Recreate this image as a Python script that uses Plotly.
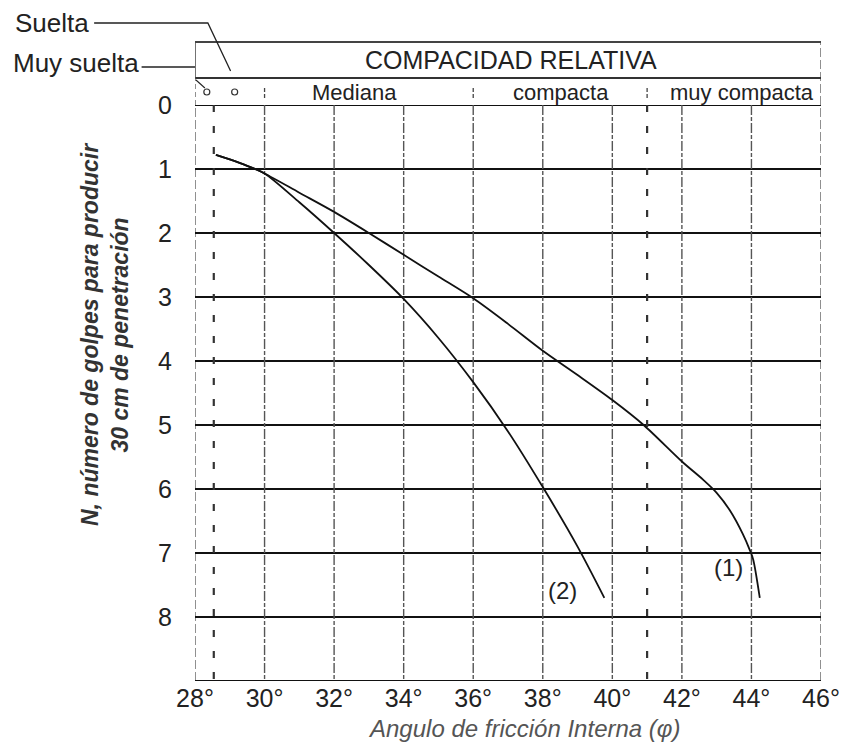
import plotly.graph_objects as go

# ---- data ----
curve1_phi = [28.6, 29.0, 29.5, 30.0, 31.0, 32.0, 33.0, 34.0, 35.0, 36.0, 37.0, 38.0, 39.0, 40.0, 40.9, 42.0, 42.6, 43.0, 43.4, 43.75, 43.95, 44.05, 44.24]
curve1_n = [0.78, 0.85, 0.95, 1.07, 1.37, 1.67, 2.0, 2.34, 2.68, 3.02, 3.42, 3.84, 4.22, 4.61, 5.0, 5.57, 5.85, 6.06, 6.35, 6.7, 6.95, 7.1, 7.7]

curve2_phi = [28.6, 29.0, 29.5, 30.0, 31.0, 32.0, 33.0, 34.0, 35.0, 36.0, 37.0, 38.0, 39.0, 39.77]
curve2_n = [0.78, 0.85, 0.95, 1.07, 1.52, 2.0, 2.5, 3.03, 3.64, 4.33, 5.1, 5.97, 6.9, 7.7]

x_ticks = [28, 30, 32, 34, 36, 38, 40, 42, 44, 46]
x_tick_labels = [f"{v}°" for v in x_ticks]
y_ticks = [0, 1, 2, 3, 4, 5, 6, 7, 8]
y_tick_labels = [str(v) for v in y_ticks]

row_labels = ["Mediana", "compacta", "muy compacta"]
row_label_x = [32.6, 38.52, 43.72]
boundaries = [30, 36, 41]
loose_markers = [28.34, 29.14]
curve_labels = ["(1)", "(2)"]
curve_label_x = [43.35, 38.58]
curve_label_y = [7.22, 7.58]

FONT = "Liberation Sans"
L, R, T, B = 195, 24, 105, 63
W, H = 852, 744
PW = W - L - R
PH = H - T - B


def px_to_paper_x(px):
    return (px - L) / PW


def px_to_paper_y(py):
    return 1 + (T - py) / PH


fig = go.Figure()

fig.add_trace(go.Scatter(x=curve1_phi, y=curve1_n, mode="lines",
                         line=dict(color="#111", width=1.8, shape="spline", smoothing=0.8),
                         showlegend=False, hoverinfo="skip"))
fig.add_trace(go.Scatter(x=curve2_phi, y=curve2_n, mode="lines",
                         line=dict(color="#111", width=1.8, shape="spline", smoothing=0.8),
                         showlegend=False, hoverinfo="skip"))

shapes = []
# horizontal grid lines (solid black)
for yv in y_ticks + [9]:
    shapes.append(dict(type="line", xref="x", yref="y", x0=28, x1=46, y0=yv, y1=yv,
                       line=dict(color="#111", width=2.2), layer="below"))
# vertical grid lines (grey broken)
for xv in range(30, 46, 2):
    shapes.append(dict(type="line", xref="x", yref="y", x0=xv, x1=xv, y0=0, y1=9,
                       line=dict(color="#555", width=1.4, dash="10px,2px,4px,2px"), layer="below"))
shapes.append(dict(type="line", xref="x", yref="paper", x0=28, x1=28, y0=0, y1=1,
                   line=dict(color="#555", width=1.3, dash="9px,3px"), layer="below"))
shapes.append(dict(type="line", xref="x", yref="paper", x0=46, x1=46, y0=0, y1=px_to_paper_y(42),
                   line=dict(color="#555", width=1.3, dash="9px,3px"), layer="below"))
# bracket-like boundary lines
for xv in [28.54, 41.0]:
    shapes.append(dict(type="line", xref="x", yref="y", x0=xv, x1=xv, y0=0, y1=9,
                       line=dict(color="#333", width=2.2, dash="7px,14px"), layer="below"))

# header rows
y_top = px_to_paper_y(42)
y_mid = px_to_paper_y(78)
shapes.append(dict(type="line", xref="x", yref="paper", x0=28, x1=46, y0=y_top, y1=y_top,
                   line=dict(color="#444", width=2)))
shapes.append(dict(type="line", xref="x", yref="paper", x0=28, x1=46, y0=y_mid, y1=y_mid,
                   line=dict(color="#333", width=2)))
shapes.append(dict(type="line", xref="x", yref="paper", x0=28, x1=28, y0=y_mid, y1=y_top,
                   line=dict(color="#444", width=1.5)))
shapes.append(dict(type="line", xref="x", yref="paper", x0=28, x1=28, y0=1, y1=y_mid,
                   line=dict(color="#555", width=1.3, dash="5px,3px")))
for xv in boundaries:
    shapes.append(dict(type="line", xref="x", yref="paper", x0=xv, x1=xv,
                       y0=px_to_paper_y(98), y1=px_to_paper_y(86),
                       line=dict(color="#444", width=1.3, dash="4px,2px")))
for xv in loose_markers:
    shapes.append(dict(type="circle", xref="x", yref="paper", xsizemode="pixel", ysizemode="pixel",
                       xanchor=xv, yanchor=px_to_paper_y(92), x0=-3, x1=3, y0=-3, y1=3,
                       line=dict(color="#333", width=1.2)))

# leader lines for Suelta / Muy suelta
shapes.append(dict(type="path", xref="paper", yref="paper",
                   path=f"M {px_to_paper_x(93)} {px_to_paper_y(23)} L {px_to_paper_x(208)} {px_to_paper_y(23)} L {px_to_paper_x(231)} {px_to_paper_y(71)}",
                   line=dict(color="#222", width=1.3)))
shapes.append(dict(type="line", xref="paper", yref="paper",
                   x0=px_to_paper_x(141), x1=px_to_paper_x(195), y0=px_to_paper_y(67), y1=px_to_paper_y(67),
                   line=dict(color="#222", width=1.3)))
shapes.append(dict(type="line", xref="paper", yref="paper",
                   x0=px_to_paper_x(196), x1=px_to_paper_x(205), y0=px_to_paper_y(80), y1=px_to_paper_y(88),
                   line=dict(color="#222", width=1.1)))


def ann(text, x, y, size, xref="paper", yref="paper", xanchor="center", color="#222", angle=0):
    return dict(text=text, xref=xref, yref=yref, x=x, y=y, xanchor=xanchor, yanchor="middle",
                showarrow=False, textangle=angle, font=dict(family=FONT, size=size, color=color))


annotations = []
annotations.append(ann("COMPACIDAD RELATIVA", 37.1, px_to_paper_y(60), 25, xref="x"))
for t, xv in zip(row_labels, row_label_x):
    annotations.append(ann(t, xv, px_to_paper_y(92), 22, xref="x"))
annotations.append(ann("Suelta", px_to_paper_x(11), px_to_paper_y(23), 26, xanchor="left"))
annotations.append(ann("Muy suelta", px_to_paper_x(9), px_to_paper_y(63), 26, xanchor="left"))
for t, xv, yv in zip(curve_labels, curve_label_x, curve_label_y):
    annotations.append(ann(t, xv, yv, 24, xref="x", yref="y"))
annotations.append(ann("<b><i>N, número de golpes para producir<br>30 cm de penetración</i></b>",
                       px_to_paper_x(104), px_to_paper_y(335), 23, color="#333", angle=-90))
annotations.append(ann("<i>Angulo de fricción Interna (φ)</i>",
                       px_to_paper_x(528), px_to_paper_y(728), 24, color="#555"))

fig.update_layout(
    width=W, height=H,
    margin=dict(l=L, r=R, t=T, b=B),
    paper_bgcolor="white", plot_bgcolor="white",
    shapes=shapes, annotations=annotations,
    xaxis=dict(range=[28, 46], tickvals=x_ticks, ticktext=x_tick_labels, showgrid=False,
               zeroline=False, showline=False, ticks="", ticklabelstandoff=0,
               tickfont=dict(family=FONT, size=25, color="#222")),
    yaxis=dict(range=[9, 0], tickvals=y_ticks, ticktext=y_tick_labels, showgrid=False,
               zeroline=False, showline=False, ticks="", ticklabelstandoff=22,
               tickfont=dict(family=FONT, size=25, color="#222")),
)

fig.write_html("out.html", config={"displayModeBar": False},
               post_script="document.body.style.margin='0px';document.body.style.overflow='hidden';")
